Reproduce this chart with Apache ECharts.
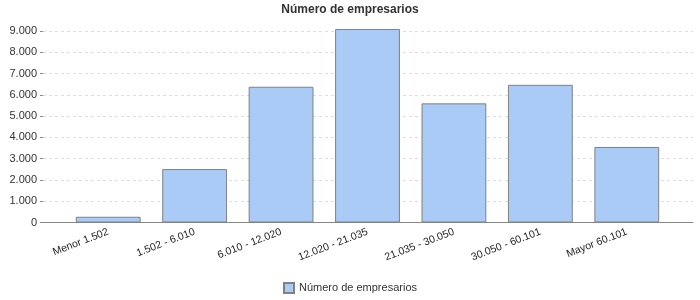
<!DOCTYPE html>
<html><head><meta charset="utf-8">
<script src="https://cdn.jsdelivr.net/npm/echarts@6/dist/echarts.min.js"></script>
<style>html,body{margin:0;padding:0;background:#fff}#c{width:700px;height:300px}</style>
</head><body><div id="c"></div>
<script>
var categories = ["Menor 1.502", "1.502 - 6.010", "6.010 - 12.020", "12.020 - 21.035", "21.035 - 30.050", "30.050 - 60.101", "Mayor 60.101"];
var values = [270, 2510, 6380, 9095, 5600, 6470, 3550];
var seriesName = "Número de empresarios";
var yMin = 0, yMax = 9000, yStep = 1000;

function fmt(v){ return String(v).replace(/\B(?=(\d{3})+(?!\d))/g, "."); }
var font = "'Liberation Sans', Arial, sans-serif";
var chart = echarts.init(document.getElementById('c'), null, {renderer:'canvas'});
chart.setOption({
  animation:false,
  backgroundColor:'#fff',
  title:{text:seriesName,left:'center',top:-1,textStyle:{fontFamily:font,fontSize:12,fontWeight:'bold',color:'#333'}},
  legend:{bottom:1,left:'center',itemWidth:10,itemHeight:10,itemGap:4,icon:'rect',
    textStyle:{fontFamily:font,fontSize:11,color:'#333'},data:[seriesName]},
  grid:[
    {left:43,right:7,top:31,bottom:77.5,containLabel:false},
    {left:65,right:30,top:31,bottom:77.5,containLabel:false}
  ],
  xAxis:[
    {gridIndex:0,type:'value',min:0,max:1,axisLine:{show:true,onZero:false,lineStyle:{color:'#888',width:1}},
      axisTick:{show:false},axisLabel:{show:false},splitLine:{show:false}},
    {gridIndex:1,type:'category',data:categories,axisLine:{show:false},axisTick:{show:false},
      axisLabel:{rotate:21,margin:9,fontFamily:font,fontSize:10.5,color:'#222',interval:0}}
  ],
  yAxis:[
    {gridIndex:0,type:'value',min:yMin,max:yMax,interval:yStep,axisLine:{show:false},
      axisTick:{show:true,length:3,lineStyle:{color:'#888'}},
      axisLabel:{margin:6,fontFamily:font,fontSize:11,color:'#333',formatter:fmt},
      splitLine:{show:true,lineStyle:{color:'#ddd',type:[3,3],width:1}}},
    {gridIndex:1,type:'value',min:yMin,max:yMax,interval:yStep,show:false,splitLine:{show:false}}
  ],
  series:[{name:seriesName,type:'bar',xAxisIndex:1,yAxisIndex:1,data:values,clip:false,
    barCategoryGap:'25%',
    itemStyle:{color:'#A9CBF5',borderColor:'#808080',borderWidth:1}}]
});
</script></body></html>
